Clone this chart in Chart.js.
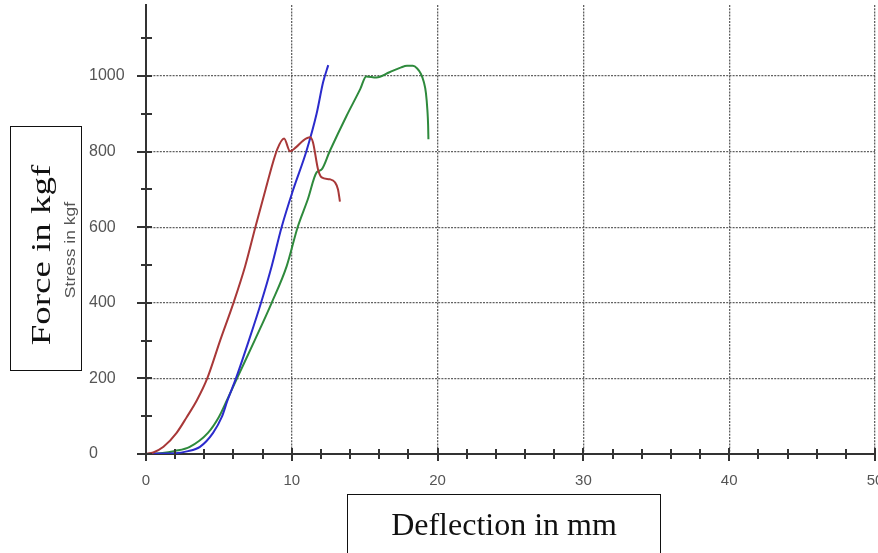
<!DOCTYPE html>
<html>
<head>
<meta charset="utf-8">
<script src="https://cdn.jsdelivr.net/npm/chart.js@4/dist/chart.umd.min.js"></script>
<style>
  html, body { margin: 0; padding: 0; background: #fff; }
  #wrap { position: relative; width: 878px; height: 553px; overflow: hidden; background: #fff; }
  #c { position: absolute; left: 0; top: 0; }
  .box { position: absolute; border: 1.5px solid #111; box-sizing: border-box; background: transparent; }
  .rot { position: absolute; white-space: nowrap; text-align: center; }
</style>
</head>
<body>
<div id="wrap">
  <canvas id="c" width="878" height="553"></canvas>
  <div class="box" style="left:10px;top:126px;width:72px;height:245px;"></div>
  <div class="rot" style="left:-79px;top:235px;width:240px;height:40px;line-height:40px;font-family:'Liberation Serif','Times New Roman',serif;font-size:28px;color:#111;transform:rotate(-90deg) scaleX(1.32);">Force in kgf</div>
  <div class="rot" style="left:-30px;top:242px;width:200px;height:16px;line-height:16px;font-family:'Liberation Sans',Arial,sans-serif;font-size:14px;color:#555;transform:rotate(-90deg) scaleX(1.25);">Stress in kgf</div>
  <div class="box" style="left:347px;top:494px;width:314px;height:80px;"></div>
  <div class="rot" style="left:347px;top:502px;width:314px;height:44px;line-height:44px;font-family:'Liberation Serif','Times New Roman',serif;font-size:32px;color:#111;">Deflection in mm</div>
</div>
<script>
// ---- data ----
const redX   = [0, 0.5, 1.2, 2.1, 2.8, 3.5, 4.2, 5.1, 6.0, 6.8, 7.5, 8.2, 9.0, 9.47, 9.88, 10.3, 10.8, 11.25, 11.45, 11.8, 12.05, 12.6, 12.96, 13.17, 13.3];
const redY   = [0, 4, 19, 56, 98, 143, 200, 302, 400, 497, 600, 700, 806, 835, 801, 812, 830, 838, 825, 753, 732, 727, 719, 700, 668];

const blueX  = [0, 1.0, 2.0, 2.8, 3.7, 4.6, 5.2, 5.6, 6.17, 7.07, 7.89, 8.62, 9.3, 10.1, 11.0, 11.7, 12.15, 12.5];
const blueY  = [0, 1, 2, 7, 19, 56, 98, 143, 200, 302, 400, 497, 600, 700, 801, 900, 984, 1029];

const greenX = [0, 1.0, 2.0, 3.0, 4.25, 5.0, 5.56, 6.24, 7.47, 8.62, 9.65, 10.4, 11.1, 11.7, 12.05, 12.6, 13.76, 14.7, 15.1, 15.8, 16.7, 17.5, 17.9, 18.3, 18.6, 18.85, 19.05, 19.2, 19.3, 19.35, 19.37];
const greenY = [0, 2, 8, 19, 56, 98, 143, 200, 302, 400, 497, 600, 674, 745, 753, 801, 895, 966, 999, 996, 1010, 1023, 1027, 1027, 1020, 1006, 985, 955, 910, 870, 833];

const xTickValues = [0, 10, 20, 30, 40, 50];
const yTickValues = [0, 200, 400, 600, 800, 1000];
const xMinorTicks = [2, 4, 6, 8, 12, 14, 16, 18, 22, 24, 26, 28, 32, 34, 36, 38, 42, 44, 46, 48];
const yMinorTicks = [100, 300, 500, 700, 900, 1100];

const seriesNames = ['Sample 1', 'Sample 2', 'Sample 3'];

function pts(xs, ys) { return xs.map((x, i) => ({ x: x, y: ys[i] })); }

// ---- tick marks crossing the axes ----
const crossTicks = {
  id: 'crossTicks',
  afterDraw(chart) {
    const ctx = chart.ctx;
    const xs = chart.scales.x, ys = chart.scales.y;
    const ax = chart.chartArea.left, ay = chart.chartArea.bottom;
    ctx.save();
    ctx.strokeStyle = '#333';
    ctx.lineWidth = 2;
    ctx.beginPath();
    yTickValues.forEach(v => { const p = Math.round(ys.getPixelForValue(v)); ctx.moveTo(ax - 9, p); ctx.lineTo(ax + 6, p); });
    yMinorTicks.forEach(v => { const p = Math.round(ys.getPixelForValue(v)); ctx.moveTo(ax - 5, p); ctx.lineTo(ax + 6, p); });
    xTickValues.forEach(v => { const p = Math.round(xs.getPixelForValue(v)); ctx.moveTo(p, ay - 6); ctx.lineTo(p, ay + 7); });
    xMinorTicks.forEach(v => { const p = Math.round(xs.getPixelForValue(v)); ctx.moveTo(p, ay - 5); ctx.lineTo(p, ay + 5); });
    ctx.stroke();
    ctx.restore();
  }
};

const gridColor = (ctx) => (ctx.tick && ctx.tick.value === 0) ? 'rgba(0,0,0,0)' : 'rgba(80,80,80,0.9)';

new Chart(document.getElementById('c'), {
  type: 'scatter',
  data: {
    datasets: [
      { label: seriesNames[0], data: pts(redX, redY),   borderColor: '#a83838', backgroundColor: '#a83838' },
      { label: seriesNames[1], data: pts(blueX, blueY),  borderColor: '#2b2bcc', backgroundColor: '#2b2bcc' },
      { label: seriesNames[2], data: pts(greenX, greenY), borderColor: '#2e8a3c', backgroundColor: '#2e8a3c' }
    ]
  },
  options: {
    responsive: false,
    animation: false,
    devicePixelRatio: 1,
    layout: { padding: { left: 89, top: 5, right: 3, bottom: 0 } },
    elements: {
      line: { borderWidth: 2, cubicInterpolationMode: 'monotone', fill: false },
      point: { radius: 0, hoverRadius: 0 }
    },
    datasets: { scatter: { showLine: true } },
    plugins: { legend: { display: false }, tooltip: { enabled: false }, title: { display: false } },
    scales: {
      x: {
        type: 'linear', min: 0, max: 50,
        afterBuildTicks: (s) => { s.ticks = xTickValues.map(v => ({ value: v })); },
        afterFit: (s) => { s.height = 99; s.paddingLeft = 0; s.paddingRight = 0; },
        grid: { color: gridColor, lineWidth: 1.3, drawTicks: false },
        border: { display: true, color: '#333', width: 2, dash: [2, 1.2] },
        ticks: { color: '#555', font: { family: "'Liberation Sans', Arial, sans-serif", size: 15 }, padding: 18, maxRotation: 0, autoSkip: false, callback: (v) => String(v) }
      },
      y: {
        type: 'linear', min: 0, max: 1188,
        afterBuildTicks: (s) => { s.ticks = yTickValues.map(v => ({ value: v })); },
        afterFit: (s) => { s.width = 57; s.paddingTop = 0; s.paddingBottom = 0; },
        grid: { color: gridColor, lineWidth: 1.3, drawTicks: false },
        border: { display: true, color: '#333', width: 2, dash: [2, 1.2] },
        ticks: { color: '#555', font: { family: "'Liberation Sans', Arial, sans-serif", size: 16 }, crossAlign: 'far', autoSkip: false, callback: (v) => String(v) }
      }
    }
  },
  plugins: [crossTicks]
});
</script>
</body>
</html>
